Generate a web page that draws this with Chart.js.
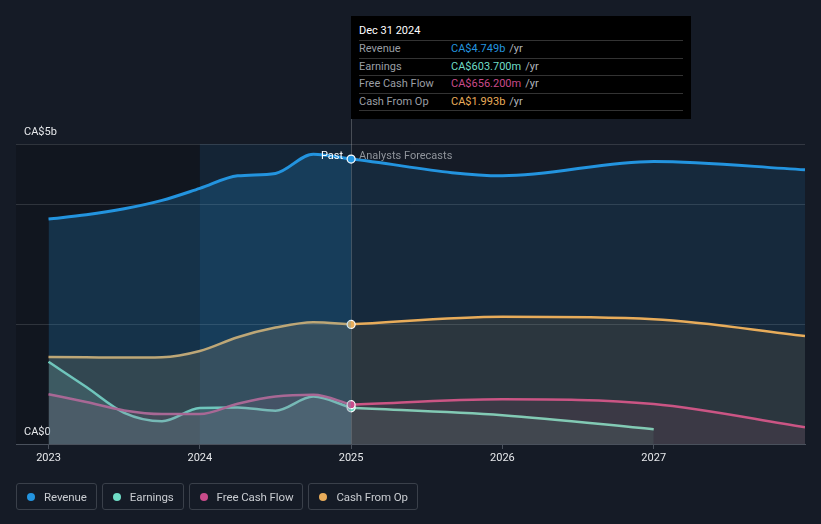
<!DOCTYPE html>
<html>
<head>
<meta charset="utf-8">
<script src="https://cdn.jsdelivr.net/npm/chart.js@4.4.1/dist/chart.umd.min.js"></script>
<style>
  html, body { margin: 0; padding: 0; background: #151b26; width: 821px; height: 524px; overflow: hidden; font-family: Roboto, "Noto Sans", sans-serif; }
  #wrap { position: relative; width: 821px; height: 524px; }
  canvas { position: absolute; left: 0; top: 0; }
  #tip { position: absolute; left: 351px; top: 16px; width: 340px; height: 103px; background: #000; box-sizing: border-box; padding: 0 8px; font-size: 11px; }
  #tip .head { color: #fff; height: 24px; line-height: 30px; border-bottom: 1px solid #333; }
  #tip .row { height: 16.5px; line-height: 16.5px; border-bottom: 1px solid #333; display: flex; }
  #tip .lab { color: #9a9ea4; width: 92px; }
  #tip .unit { color: #b0b4ba; margin-left: 4px; }
  #legend { position: absolute; left: 16px; top: 483px; display: flex; gap: 5px; }
  .item { height: 27px; border: 1px solid #3a404a; border-radius: 3px; box-sizing: border-box; display: flex; align-items: center; padding: 0 9px 0 10px; color: #c9ccd1; font-size: 11.5px; letter-spacing: -0.1px; }
  .dot { width: 8px; height: 8px; border-radius: 50%; margin-right: 9px; }
</style>
</head>
<body>
<div id="wrap">
  <canvas id="c" width="821" height="524"></canvas>
  <div id="tip"></div>
  <div id="legend"></div>
</div>
<script>
// ---- data ----
const seriesNames = ["Revenue", "Earnings", "Free Cash Flow", "Cash From Op"];
const seriesColors = ["#2394df", "#6fdcc6", "#c84b8a", "#e8ac5a"];
const pastYears = [2023, 2023.25, 2023.5, 2023.75, 2024, 2024.25, 2024.5, 2024.75, 2025];
const forecastYears = [2025, 2026, 2027, 2028];
const revenuePast = [3.75, 3.82, 3.92, 4.06, 4.26, 4.47, 4.51, 4.83, 4.749];
const revenueForecast = [4.749, 4.47, 4.71, 4.57];
const earningsPast = [1.37, 0.95, 0.52, 0.38, 0.60, 0.61, 0.555, 0.79, 0.6037];
const earningsForecast = [0.6037, 0.48, 0.245];
const fcfPast = [0.83, 0.70, 0.56, 0.50, 0.50, 0.67, 0.79, 0.82, 0.6562];
const fcfForecast = [0.6562, 0.745, 0.667, 0.28];
const cfoPast = [1.45, 1.445, 1.44, 1.445, 1.55, 1.78, 1.94, 2.03, 1.993];
const cfoForecast = [1.993, 2.12, 2.08, 1.80];
const xTickYears = [2023, 2024, 2025, 2026, 2027];
const yGridValues = [0, 2, 4, 5];
const yLabels = {0: "CA$0", 5: "CA$5b"};
const tooltipDate = "Dec 31 2024";
const tooltipValues = ["CA$4.749b", "CA$603.700m", "CA$656.200m", "CA$1.993b"];

const pts = (xs, ys) => ys.map((v, i) => ({x: xs[i], y: v}));
function rgba(hex, a) {
  const n = parseInt(hex.slice(1), 16);
  return `rgba(${(n >> 16) & 255},${(n >> 8) & 255},${n & 255},${a})`;
}

const pastSets = [revenuePast, earningsPast, fcfPast, cfoPast];
const foreSets = [revenueForecast, earningsForecast, fcfForecast, cfoForecast];
const pastFill = [0.22, 0.16, 0.14, 0.18];
const foreFill = [0.12, 0.10, 0.10, 0.10];
const widths = [3, 2.5, 2.5, 2.5];

const datasets = [];
for (let i = 0; i < 4; i++) {
  datasets.push({
    label: seriesNames[i] + " past",
    data: pts(pastYears, pastSets[i]),
    borderColor: seriesColors[i],
    backgroundColor: rgba(seriesColors[i], pastFill[i]),
    borderWidth: widths[i],
    fill: 'origin',
    cubicInterpolationMode: 'monotone',
    pointRadius: ctx => ctx.raw && ctx.raw.x === 2025 ? 4 : 0,
    pointBackgroundColor: seriesColors[i],
    pointBorderColor: '#ffffff',
    pointBorderWidth: 1.2,
    order: 10 - i
  });
  datasets.push({
    label: seriesNames[i] + " forecast",
    data: pts(forecastYears, foreSets[i]),
    borderColor: seriesColors[i],
    backgroundColor: rgba(seriesColors[i], foreFill[i]),
    borderWidth: widths[i],
    fill: 'origin',
    cubicInterpolationMode: 'monotone',
    pointRadius: 0,
    order: 20 - i
  });
}
datasets[0].order = 0;

const bgPlugin = {
  id: 'bg',
  beforeDraw(chart) {
    const {ctx, chartArea: a, scales: {x}} = chart;
    ctx.save();
    ctx.fillStyle = '#151b26';
    ctx.fillRect(0, 0, chart.width, chart.height);
    const x24 = x.getPixelForValue(2024), x25 = x.getPixelForValue(2025);
    ctx.fillStyle = 'rgba(0,0,0,0.18)';
    ctx.fillRect(a.left, a.top, x24 - a.left, a.bottom - a.top);
    ctx.fillStyle = 'rgba(20,70,110,0.22)';
    ctx.fillRect(x24, a.top, x25 - x24, a.bottom - a.top);
    ctx.restore();
  },
  beforeDatasetsDraw(chart) {
    const {ctx, chartArea: a, scales: {x}} = chart;
    const x25 = Math.round(x.getPixelForValue(2025)) + 0.5;
    ctx.save();
    ctx.strokeStyle = 'rgba(255,255,255,0.22)';
    ctx.lineWidth = 1;
    ctx.beginPath();
    ctx.moveTo(x25, 16);
    ctx.lineTo(x25, a.bottom);
    ctx.stroke();
    ctx.restore();
  },
  afterDatasetsDraw(chart) {
    const {ctx, scales: {x}} = chart;
    const x25 = x.getPixelForValue(2025);
    ctx.save();
    ctx.font = '11px Roboto, "Noto Sans", sans-serif';
    ctx.textBaseline = 'middle';
    ctx.textAlign = 'right';
    ctx.fillStyle = '#ffffff';
    ctx.fillText('Past', x25 - 8, 156);
    ctx.textAlign = 'left';
    ctx.fillStyle = '#8f949b';
    ctx.fillText('Analysts Forecasts', x25 + 8, 156);
    ctx.restore();
  }
};

new Chart(document.getElementById('c'), {
  type: 'line',
  data: {datasets},
  plugins: [bgPlugin],
  options: {
    responsive: false,
    animation: false,
    events: [],
    layout: {padding: {left: 16, right: 16, top: 144, bottom: 0}},
    plugins: {legend: {display: false}, tooltip: {enabled: false}},
    scales: {
      x: {
        type: 'linear',
        min: 2022.785,
        max: 2028,
        afterBuildTicks: s => { s.ticks = xTickYears.map(v => ({value: v})); },
        afterFit: s => { s.height = 80; },
        grid: {drawOnChartArea: false, drawTicks: true, tickLength: 5, color: '#4a515c'},
        border: {display: true, color: '#4a515c', width: 1},
        ticks: {color: '#e6e8eb', font: {size: 11, family: 'Roboto'}, padding: 3, maxRotation: 0, callback: v => String(v)}
      },
      y: {
        type: 'linear',
        min: 0,
        max: 5,
        afterBuildTicks: s => { s.ticks = yGridValues.map(v => ({value: v})); },
        afterFit: s => { s.width = 0; },
        grid: {drawTicks: false, color: 'rgba(255,255,255,0.13)', lineWidth: 1},
        border: {display: false},
        ticks: {mirror: true, padding: 8, labelOffset: -12, color: '#e6e8eb', font: {size: 11, family: 'Roboto'}, callback: v => yLabels[v] || ''}
      }
    }
  }
});

const tip = document.getElementById('tip');
let html = `<div class="head">${tooltipDate}</div>`;
for (let i = 0; i < 4; i++) {
  html += `<div class="row"><span class="lab">${seriesNames[i]}</span><span style="color:${seriesColors[i]}">${tooltipValues[i]}</span><span class="unit">/yr</span></div>`;
}
tip.innerHTML = html;

const leg = document.getElementById('legend');
seriesNames.forEach((n, i) => {
  const d = document.createElement('div');
  d.className = 'item';
  d.innerHTML = `<span class="dot" style="background:${seriesColors[i]}"></span>${n}`;
  leg.appendChild(d);
});
</script>
</body>
</html>
